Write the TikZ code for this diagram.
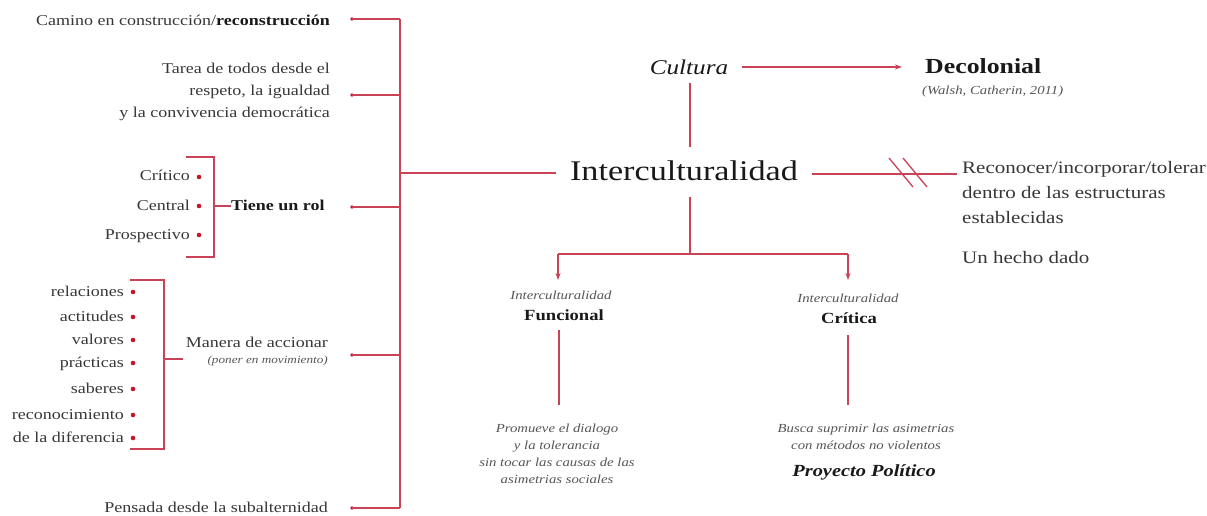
\documentclass[tikz,border=0pt]{standalone}
\usepackage{fontspec}
\setmainfont[FakeStretch=1.2]{Liberation Serif}
\usetikzlibrary{arrows.meta}
\definecolor{lred}{RGB}{202,66,86}
\definecolor{dred}{RGB}{200,20,40}
\definecolor{txt}{RGB}{55,55,55}
\definecolor{itx}{RGB}{85,85,85}
\definecolor{btx}{RGB}{25,25,25}
\tikzset{
  every node/.style={inner sep=0pt, text=txt},
  ln/.style={draw=lred, line width=1.4pt},
  bk/.style={draw=lred, line width=1.8pt},
  tipln/.style={draw=lred, line width=1.4pt, -{Stealth[length=7pt,width=5pt]}},
  fs/.style={font=\fontsize{15}{22}\selectfont},
  fsb/.style={font=\fontsize{15}{22}\selectfont\bfseries, text=btx},
  fr/.style={font=\fontsize{17.5}{25}\selectfont},
  fi/.style={font=\fontsize{12.3}{17}\selectfont\itshape, text=itx},
  fib/.style={font=\fontsize{15.5}{20}\selectfont\bfseries, text=btx},
  bdot/.style={circle, fill=dred, minimum size=4.6pt, inner sep=0pt},
}
\begin{document}
\begin{tikzpicture}[x=1pt,y=-1pt]
\useasboundingbox (0,0) rectangle (1207,515);

% ---------- left column texts ----------
\node[fs, anchor=base east] (camino) at (330,25) {Camino en construcción/\textbf{\color{btx}reconstrucción}};
\node[fs, anchor=base east, align=right] (tarea) at (330,117) {Tarea de todos desde el\\respeto, la igualdad\\y la convivencia democrática};
\node[fsb, anchor=base west] (rol) at (231,210) {Tiene un rol};
\node[fs, anchor=base east] (manera) at (328,347) {Manera de accionar};
\node[font=\fontsize{11}{14}\selectfont\itshape, text=itx, anchor=base east] (poner) at (328,363) {(poner en movimiento)};
\node[fs, anchor=base east] (pensada) at (328,512) {Pensada desde la subalternidad};

% rol items
\node[fs, anchor=base east] (critico) at (190,180) {Crítico};
\node[fs, anchor=base east] (central) at (190,210) {Central};
\node[fs, anchor=base east] (prosp) at (190,239) {Prospectivo};
\foreach \n/\y in {critico/177,central/206,prosp/235}{
  \node[bdot] (d\n) at (199,\y) {};
}
% manera items
\node[fs, anchor=base east] (rel) at (124,296) {relaciones};
\node[fs, anchor=base east] (act) at (124,321) {actitudes};
\node[fs, anchor=base east] (val) at (124,344) {valores};
\node[fs, anchor=base east] (pra) at (124,367) {prácticas};
\node[fs, anchor=base east] (sab) at (124,393) {saberes};
\node[fs, anchor=base east] (rec) at (124,419) {reconocimiento};
\node[fs, anchor=base east] (dif) at (124,442) {de la diferencia};
\foreach \n/\y in {rel/292,act/317,val/340,pra/363,sab/389,rec/415,dif/438}{
  \node[bdot] (d\n) at (133,\y) {};
}

% brackets
\coordinate (rb1) at (186,157); \coordinate (rb2) at (214,157);
\coordinate (rb3) at (214,257); \coordinate (rb4) at (186,257);
\coordinate (rbm) at (214,206);
\draw[bk] (rb1) -- (rb2) -- (rb3) -- (rb4);
\draw[ln] (rbm) -- (rol.west |- rbm);
\coordinate (mb1) at (130,280); \coordinate (mb2) at (164,280);
\coordinate (mb3) at (164,449); \coordinate (mb4) at (130,449);
\coordinate (mbm) at (164,359);
\draw[bk] (mb1) -- (mb2) -- (mb3) -- (mb4);
\draw[ln] (mbm) -- (183,359);

% spine
\coordinate (s1) at (400,19);
\coordinate (s2) at (400,95);
\coordinate (s3) at (400,173);
\coordinate (s4) at (400,207);
\coordinate (s5) at (400,355);
\coordinate (s6) at (400,508);
\draw[bk] (s1) -- (s6);
\foreach \i/\y in {1/19,2/95,4/207,5/355,6/508}{
  \node[bdot, minimum size=3.8pt] (b\i) at (352,\y) {};
  \draw[ln] (b\i.center) -- (s\i);
}

% ---------- centre ----------
\node[font=\fontsize{28.5}{32}\selectfont, text=btx, anchor=base, inner xsep=14pt] (inter) at (684,180) {Interculturalidad};
\draw[ln] (s3) -- (inter.west |- s3);

\node[font=\fontsize{21}{24}\selectfont\itshape, text=btx, anchor=base, inner xsep=14pt] (cultura) at (689,74) {Cultura};
\node[font=\fontsize{21.5}{24}\selectfont\bfseries, text=btx, anchor=base west] (decol) at (925,73) {Decolonial};
\node[fi, anchor=base west] (walsh) at (922,94) {(Walsh, Catherin, 2011)};
\draw[tipln] (cultura.east |- 0,67) -- (902,67);
\coordinate (cv1) at (690,83); \coordinate (cv2) at (690,147);
\draw[ln] (cv1) -- (cv2);

% right side
\coordinate (r1) at (812,174); \coordinate (r2) at (957,174);
\draw[ln] (r1) -- (r2);
\draw[draw=lred, line width=1.3pt] (889,158) -- (913,187);
\draw[draw=lred, line width=1.3pt] (903,158) -- (927,187);
\node[fr, anchor=base west, align=left] (recon) at (962,223) {Reconocer/incorporar/tolerar\\dentro de las estructuras\\establecidas};
\node[fr, anchor=base west] (hecho) at (962,263) {Un hecho dado};

% down branches
\coordinate (iv1) at (690,197); \coordinate (iv2) at (690,254);
\coordinate (hl) at (558,254); \coordinate (hr) at (848,254);
\draw[ln] (iv1) -- (iv2);
\draw[ln] (hl) -- (hr);
\node[fi, anchor=base] (fint) at (561,299) {Interculturalidad};
\node[fib, anchor=base] (func) at (564,320) {Funcional};
\node[fi, anchor=base] (cint) at (848,302) {Interculturalidad};
\node[fib, anchor=base] (crit) at (849,323) {Crítica};
\draw[tipln] (hl) -- (558,280);
\draw[tipln] (hr) -- (848,280);

\coordinate (fv1) at (559,330); \coordinate (fv2) at (559,405);
\coordinate (cv3) at (848,335); \coordinate (cv4) at (848,405);
\draw[ln] (fv1) -- (fv2);
\draw[ln] (cv3) -- (cv4);

\node[fi, anchor=base, align=center] (prom) at (557,483) {Promueve el dialogo\\y la tolerancia\\sin tocar las causas de las\\asimetrias sociales};
\node[fi, anchor=base, align=center] (busca) at (866,449) {Busca suprimir las asimetrias\\con métodos no violentos};
\node[font=\fontsize{17}{20}\selectfont\bfseries\itshape, text=btx, anchor=base] (proy) at (864,476) {Proyecto Político};
\end{tikzpicture}
\end{document}
